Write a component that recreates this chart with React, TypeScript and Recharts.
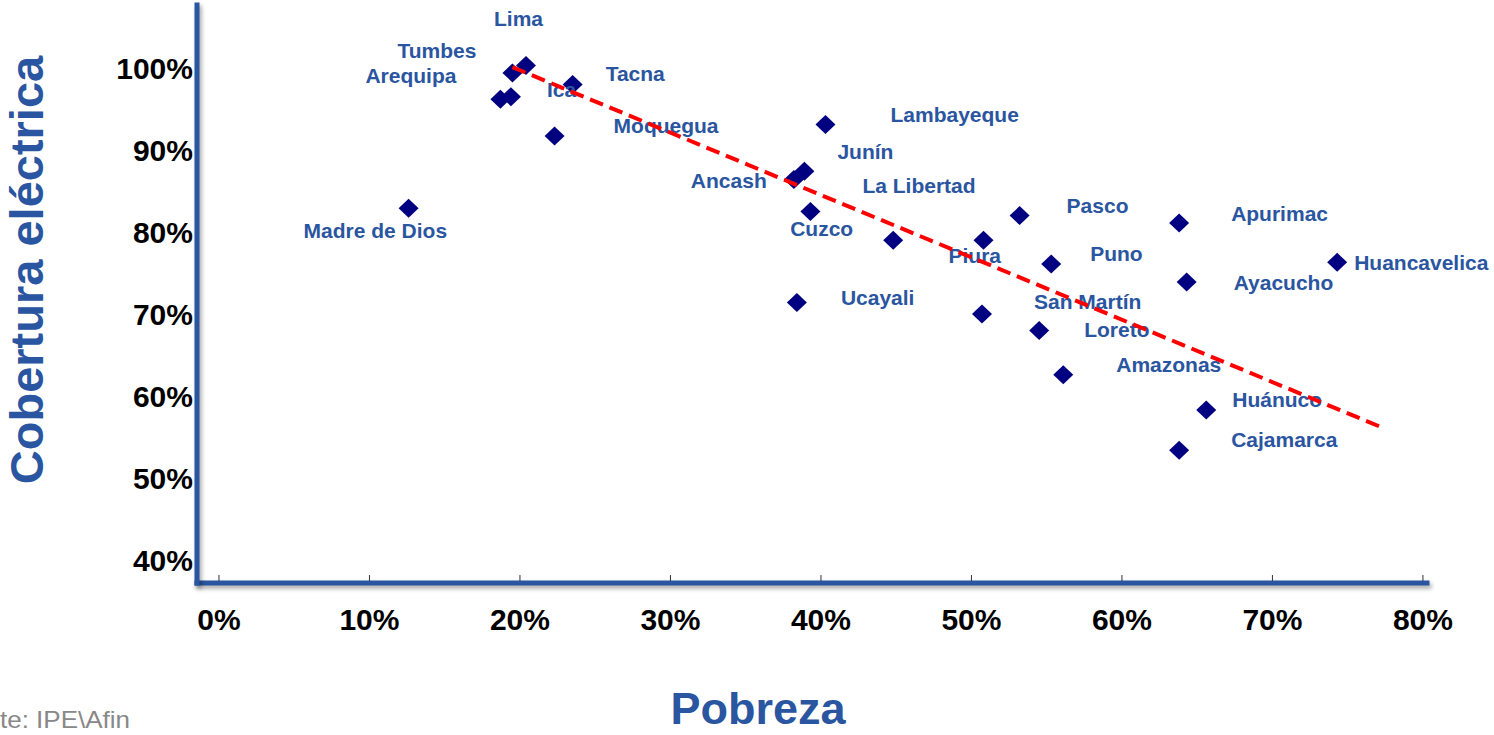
import { ScatterChart, Scatter, XAxis, YAxis } from 'recharts';

const REGIONES = [
  'Madre de Dios', 'Lima', 'Tumbes', 'Arequipa', 'Ica', 'Tacna', 'Moquegua', 'Lambayeque',
  'Junín', 'Ancash', 'La Libertad', 'Cuzco', 'Piura', 'Pasco', 'Puno', 'San Martín',
  'Loreto', 'Amazonas', 'Apurimac', 'Huancavelica', 'Ayacucho', 'Huánuco', 'Cajamarca', 'Ucayali',
];
// % pobreza
const POBREZA = [
  12.6, 20.4, 19.5, 18.7, 19.4, 23.5, 22.3, 40.3,
  38.9, 38.2, 39.3, 44.8, 50.8, 53.2, 55.3, 50.7,
  54.5, 56.1, 63.8, 74.3, 64.3, 65.6, 63.8, 38.4,
];
// % cobertura electrica
const COBERTURA = [
  82.9, 100.3, 99.4, 96.2, 96.5, 98.0, 91.7, 93.1,
  87.4, 86.4, 82.5, 79.0, 79.0, 82.0, 76.1, 70.0,
  68.0, 62.6, 81.1, 76.3, 73.9, 58.3, 53.4, 71.4,
];
const X_TICKS = [0, 10, 20, 30, 40, 50, 60, 70, 80];
const Y_TICKS = [40, 50, 60, 70, 80, 90, 100];
// linea de tendencia (extremos)
const TENDENCIA_X = [19.5, 77.1];
const TENDENCIA_Y = [100.1, 56.3];

// labels were placed by hand: [left edge, baseline] relative to the marker
const LABEL_OFFSET: Record<string, [number, number]> = {
  'Madre de Dios': [-105, 30], Lima: [-32, -40], Tumbes: [-115, -15], Arequipa: [-135, -16],
  Ica: [36, 0], Tacna: [33, -3], Moquegua: [59, -3], Lambayeque: [65, -3],
  'Junín': [33, -12], Ancash: [-103, 8], 'La Libertad': [52, -18], Cuzco: [-103, -4],
  Piura: [-35, 23], Pasco: [47, -3], Puno: [39, -3], 'San Martín': [52, -5],
  Loreto: [45, 7], Amazonas: [53, -3], Apurimac: [52, -2], Huancavelica: [17, 8],
  Ayacucho: [47, 8], 'Huánuco': [26, -3], Cajamarca: [52, -3], Ucayali: [44, 2],
};

const data = REGIONES.map((name, i) => ({ name, x: POBREZA[i], y: COBERTURA[i] }));
const trend = TENDENCIA_X.map((x, i) => ({ x, y: TENDENCIA_Y[i] }));

const FONT = '"Liberation Sans", Arial, Helvetica, sans-serif';
const BLUE = '#2A55A0';
const axisLine = {
  stroke: BLUE,
  strokeWidth: 5,
  strokeLinecap: 'square' as const,
  style: { filter: 'drop-shadow(2px 3px 2px rgba(0,0,0,0.35))' },
};

const XTick = (props: any) => {
  const { x, y, payload } = props;
  return (
    <g>
      <line x1={x} x2={x} y1={y - 8} y2={y - 2} stroke="#333" strokeWidth={1} />
      <text x={x} y={y + 47} textAnchor="middle" fontFamily={FONT} fontSize={30} fontWeight={700} fill="#000">
        {payload.value}%
      </text>
    </g>
  );
};

const YTick = (props: any) => {
  const { x, y, payload } = props;
  return (
    <text x={x - 4} y={y + 11} textAnchor="end" fontFamily={FONT} fontSize={30} fontWeight={700} fill="#000">
      {payload.value}%
    </text>
  );
};

const Diamond = (props: any) => {
  const { cx, cy } = props;
  return (
    <path
      d={`M${cx},${cy - 9.5}L${cx + 10},${cy}L${cx},${cy + 9.5}L${cx - 10},${cy}Z`}
      fill="#000080"
    />
  );
};

const RegionLabel = (props: any) => {
  const { cx, cy, payload } = props;
  const [dx, dy] = LABEL_OFFSET[payload.name] || [12, 0];
  return (
    <text x={cx + dx} y={cy + dy} fontFamily={FONT} fontSize={21} fontWeight={700} fill={BLUE}>
      {payload.name}
    </text>
  );
};

export default function App() {
  return (
    <div style={{ position: 'absolute', left: 0, top: 0, width: 1494, height: 735, background: '#fff' }}>
      <ScatterChart width={1494} height={735} margin={{ top: 5, right: 67, bottom: 92, left: 97 }}>
        <XAxis
          type="number"
          dataKey="x"
          domain={[-1.46, 80.27]}
          ticks={X_TICKS}
          interval={0}
          height={60}
          tickSize={0}
          tickMargin={0}
          tickLine={false}
          axisLine={axisLine}
          tick={<XTick />}
        />
        <YAxis
          type="number"
          dataKey="y"
          domain={[37.2, 107.68]}
          ticks={Y_TICKS}
          interval={0}
          width={100}
          tickSize={0}
          tickMargin={0}
          tickLine={false}
          axisLine={axisLine}
          tick={<YTick />}
        />
        <Scatter data={data} shape={<Diamond />} isAnimationActive={false} />
        <Scatter data={data} shape={<RegionLabel />} isAnimationActive={false} />
        <Scatter
          data={trend}
          line={{ stroke: '#FF0000', strokeWidth: 4, strokeDasharray: '14 7' }}
          shape={() => <g />}
          isAnimationActive={false}
        />
      </ScatterChart>
      <svg width={1494} height={735} style={{ position: 'absolute', left: 0, top: 0, pointerEvents: 'none' }}>
        <text
          x={43}
          y={270}
          transform="rotate(-90, 43, 270)"
          textAnchor="middle"
          fontFamily={FONT}
          fontSize={47}
          fontWeight={700}
          fill={BLUE}
        >
          Cobertura eléctrica
        </text>
        <text x={758} y={724} textAnchor="middle" fontFamily={FONT} fontSize={45} fontWeight={700} fill={BLUE}>
          Pobreza
        </text>
        <text
          x={0}
          y={728}
          fontFamily={FONT}
          fontSize={24}
          fill="#888"
          textLength={130}
          lengthAdjust="spacingAndGlyphs"
        >
          te: IPE\Afin
        </text>
      </svg>
    </div>
  );
}
